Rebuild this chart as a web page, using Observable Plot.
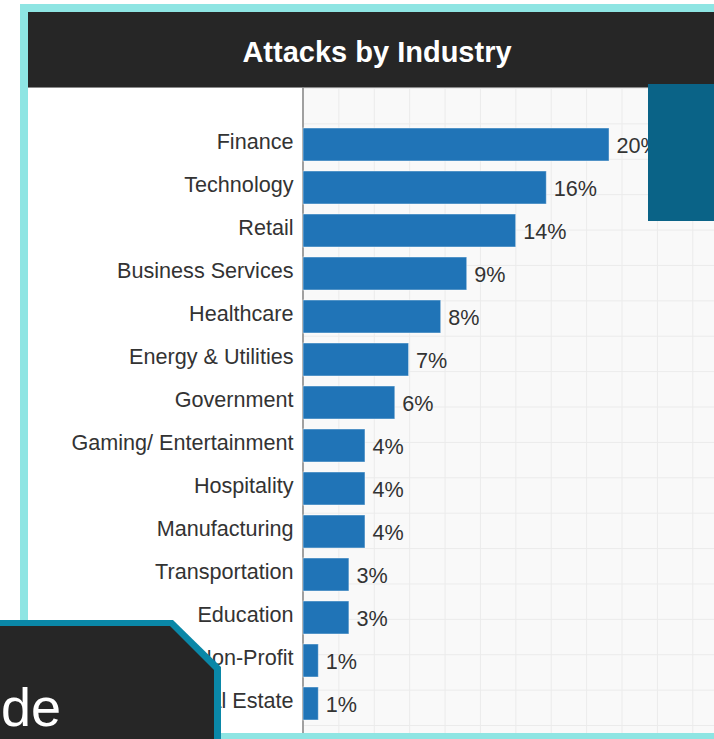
<!DOCTYPE html>
<html>
<head>
<meta charset="utf-8">
<script src="https://cdn.jsdelivr.net/npm/d3@7"></script>
<script src="https://cdn.jsdelivr.net/npm/@observablehq/plot@0.6"></script>
<style>
  html, body { margin: 0; padding: 0; background: #ffffff; }
  body { width: 714px; height: 739px; position: relative; overflow: hidden; font-family: "Liberation Sans", Arial, sans-serif; }
  .abs { position: absolute; }
  #frame { left: 20px; top: 4px; width: 800px; height: 800px; background: #8ee5e3; }
  #header { left: 28px; top: 12px; width: 800px; height: 75px; background: #262626; border-bottom: 1px solid #8a8a8a; }
  #title { left: 28px; top: 38px; width: 698px; text-align: center; color: #ffffff; font-weight: bold; font-size: 29px; line-height: 29px; }
  #area { left: 28px; top: 88px; width: 800px; height: 645px; background: #ffffff; }
  #grid { left: 302px; top: 88px; width: 500px; height: 645px; background-color: #f9f9f9;
          border-left: 2px solid #a0a0a0;
          background-image: linear-gradient(to right, #ebebeb 1px, transparent 1px), linear-gradient(to bottom, #ebebeb 1px, transparent 1px);
          background-size: 35.4px 35.4px; background-position: -1px 0px; }
  #chart { left: 28px; top: 88px; }
  #boxR { left: 648px; top: 84px; width: 80px; height: 137px; background: #0a6387; }
  #boxOuter { left: 0; top: 620px; width: 221px; height: 130px; background: #0a87a7;
              clip-path: polygon(0 0, 173px 0, 221px 47px, 221px 130px, 0 130px); }
  #boxInner { left: 0; top: 626px; width: 214px; height: 130px; background: #262626;
              clip-path: polygon(0 0, 170px 0, 214px 44px, 214px 130px, 0 130px); }
  #boxText { left: 1px; top: 680px; color: #ffffff; font-size: 54px; line-height: 54px; white-space: nowrap; }
</style>
</head>
<body>
<div id="frame" class="abs"></div>
<div id="header" class="abs"></div>
<div id="title" class="abs">Attacks by Industry</div>
<div id="area" class="abs"></div>
<div id="grid" class="abs"></div>
<div id="chart" class="abs"></div>
<div id="boxR" class="abs"></div>
<div id="boxOuter" class="abs"></div>
<div id="boxInner" class="abs"></div>
<div id="boxText" class="abs">de</div>
<script>
// Categories (top to bottom)
const industries = [
  "Finance", "Technology", "Retail", "Business Services", "Healthcare",
  "Energy & Utilities", "Government", "Gaming/ Entertainment", "Hospitality",
  "Manufacturing", "Transportation", "Education", "Non-Profit", "Real Estate"
];
// Bar lengths as drawn (percent)
const shares = [20, 15.9, 13.9, 10.7, 9.0, 6.9, 6.0, 4.05, 4.05, 4.05, 3.0, 3.0, 1.0, 1.0];
// Value labels as printed
const shareLabels = ["20%", "16%", "14%", "9%", "8%", "7%", "6%", "4%", "4%", "4%", "3%", "3%", "1%", "1%"];

const data = industries.map((name, i) => ({ name, value: shares[i], label: shareLabels[i] }));

const chart = Plot.plot({
  width: 686,
  height: 645,
  marginLeft: 275,
  marginRight: 0,
  marginTop: 33.8,
  marginBottom: 6.4,
  style: { fontFamily: "Liberation Sans, Arial, sans-serif", color: "#333333", background: "transparent", overflow: "visible" },
  x: { domain: [0, 26.86], axis: null },
  y: { domain: industries, paddingInner: 0.227, paddingOuter: 0.1135, axis: null },
  marks: [
    Plot.barX(data, { y: "name", x: "value", fill: "#2074b7", stroke: "#ffffff", strokeOpacity: 0.45, strokeWidth: 1 }),
    Plot.text(data, { y: "name", x: "value", text: "label", dx: 7, dy: 1, textAnchor: "start", fontSize: 21.6, fill: "#333333" }),
    Plot.axisY({ tickSize: 0, tickPadding: 10, label: null, fontSize: 21.6, dy: -3, fill: "#333333" })
  ]
});
document.getElementById("chart").appendChild(chart);
</script>
</body>
</html>
